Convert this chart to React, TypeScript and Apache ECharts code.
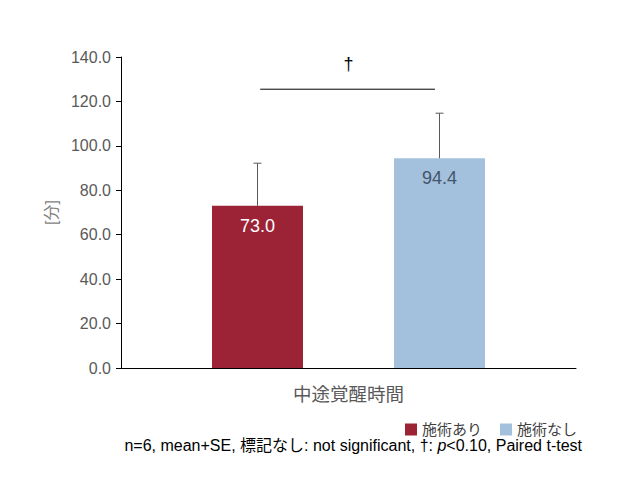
import React, { useEffect, useRef } from "react";
import * as echarts from "echarts";

const categories = ["中途覚醒時間"];
const seriesNames = ["施術あり", "施術なし"];
const withTreatment = [73.0];
const withoutTreatment = [94.4];
const seWith = [19.2];
const seWithout = [20.3];
const yTicks = { min: 0, max: 140, interval: 20 };
const sigLevel = 125.5;
const daggerLevel = 137;

export default function App() {
  const ref = useRef<HTMLDivElement>(null);
  useEffect(() => {
    document.body.style.margin = "0";
    const chart = echarts.init(ref.current!, null, { renderer: "svg" });
    const font = "'Liberation Sans', Arial, 'Noto Sans CJK JP', sans-serif";
    const errData = [
      [0, withTreatment[0], seWith[0], -1],
      [0, withoutTreatment[0], seWithout[0], 1],
    ];
    chart.setOption({
      animation: false,
      textStyle: { fontFamily: font },
      grid: { left: 121, right: 55, top: 57, bottom: 134 },
      legend: {
        data: seriesNames,
        right: 49,
        top: 417,
        itemWidth: 12,
        itemHeight: 12,
        itemGap: 18,
        icon: "rect",
        textStyle: { fontSize: 15, color: "#404040", fontFamily: font },
      },
      xAxis: {
        type: "category",
        data: categories,
        axisLine: { lineStyle: { color: "#000", width: 1 } },
        axisTick: { show: false },
        axisLabel: { fontSize: 18.5, color: "#595959", margin: 17, fontFamily: font },
      },
      yAxis: {
        type: "value",
        min: yTicks.min,
        max: yTicks.max,
        interval: yTicks.interval,
        name: "[分]",
        nameLocation: "middle",
        nameRotate: 90,
        nameGap: 62,
        nameTextStyle: { fontSize: 16, color: "#7f7f7f", fontFamily: font },
        splitLine: { show: false },
        axisLine: { show: true, lineStyle: { color: "#000", width: 1 } },
        axisTick: { show: true, length: 5, lineStyle: { color: "#000" } },
        axisLabel: {
          fontSize: 16,
          color: "#595959",
          margin: 10,
          fontFamily: font,
          formatter: (v: number) => v.toFixed(1),
        },
      },
      series: [
        {
          name: seriesNames[0],
          type: "bar",
          data: withTreatment,
          barWidth: 91,
          barGap: "100%",
          itemStyle: { color: "#9b2335" },
          label: {
            show: true,
            position: "insideTop",
            distance: 11,
            fontSize: 18,
            color: "#ffffff",
            fontFamily: font,
            formatter: (p: any) => Number(p.value).toFixed(1),
          },
        },
        {
          name: seriesNames[1],
          type: "bar",
          data: withoutTreatment,
          barWidth: 91,
          itemStyle: { color: "#a3c1dd" },
          label: {
            show: true,
            position: "insideTop",
            distance: 11,
            fontSize: 18,
            color: "#44546a",
            fontFamily: font,
            formatter: (p: any) => Number(p.value).toFixed(1),
          },
        },
        {
          type: "custom",
          name: "err",
          data: errData,
          encode: { x: 0, y: 1 },
          z: 10,
          renderItem: (params: any, api: any) => {
            const mean = api.value(1);
            const se = api.value(2);
            const side = api.value(3);
            const band = api.size([1, 0])[0];
            const off = side * band * 0.2;
            const p0 = api.coord([api.value(0), mean]);
            const p1 = api.coord([api.value(0), mean + se]);
            const x = p0[0] + off;
            const style = { stroke: "#595959", lineWidth: 1 };
            return {
              type: "group",
              children: [
                { type: "line", shape: { x1: x, y1: p0[1], x2: x, y2: p1[1] }, style },
                { type: "line", shape: { x1: x - 4, y1: p1[1], x2: x + 4, y2: p1[1] }, style },
              ],
            };
          },
        },
        {
          type: "custom",
          name: "sig",
          data: [[0, sigLevel]],
          encode: { x: 0, y: 1 },
          renderItem: (params: any, api: any) => {
            const band = api.size([1, 0])[0];
            const c = api.coord([0, sigLevel]);
            const d = api.coord([0, daggerLevel]);
            return {
              type: "group",
              children: [
                {
                  type: "line",
                  shape: { x1: c[0] - band * 0.194, y1: c[1], x2: c[0] + band * 0.19, y2: c[1] },
                  style: { stroke: "#000", lineWidth: 1 },
                },
                {
                  type: "text",
                  x: d[0],
                  y: d[1],
                  style: {
                    text: "†",
                    fontSize: 18,
                    fill: "#000",
                    align: "center",
                    verticalAlign: "middle",
                    fontFamily: font,
                  },
                },
              ],
            };
          },
        },
      ],
      graphic: [
        {
          type: "text",
          right: 49,
          top: 437,
          style: {
            text: "n=6, mean+SE, 標記なし: not significant, †: {i|p}<0.10, Paired t-test",
            fontSize: 16,
            fill: "#000",
            fontFamily: font,
            rich: {
              i: { fontStyle: "italic", fontSize: 16, fill: "#000", fontFamily: font },
            },
          },
        },
      ],
    });
    return () => chart.dispose();
  }, []);
  return <div ref={ref} style={{ width: 631, height: 502 }} />;
}
